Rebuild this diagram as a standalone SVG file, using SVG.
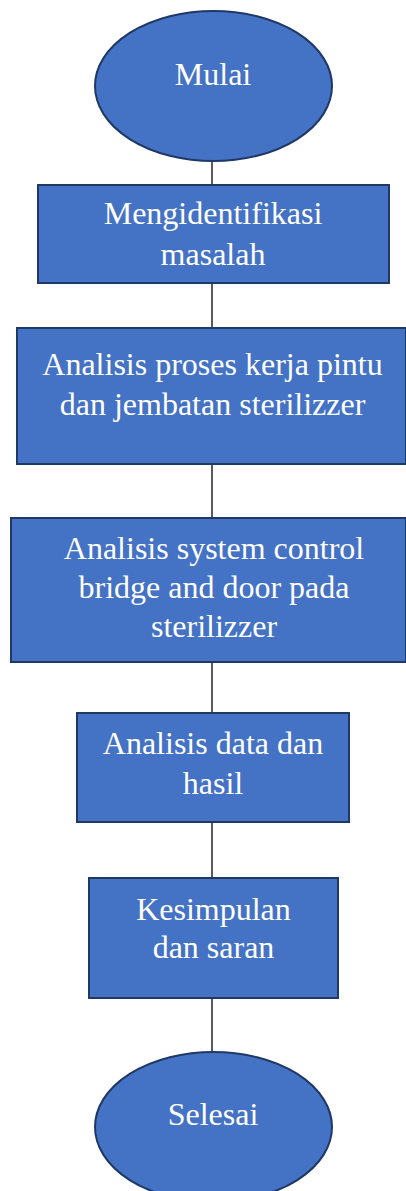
<svg xmlns="http://www.w3.org/2000/svg" width="406" height="1191" viewBox="0 0 406 1191">
<style>
.box{fill:#4472C4;stroke:#1F3864;stroke-width:2}
.lbl{fill:#FFFFFF;font-family:"Liberation Serif","Times New Roman",serif;font-size:32px;text-anchor:middle}
.con{stroke:#000000;stroke-width:1.3;fill:none}
</style>
<rect width="406" height="1191" fill="#FFFFFF"/>
<g id="connectors">
<line class="con" x1="212" y1="160" x2="212" y2="185"/>
<line class="con" x1="212" y1="280" x2="212" y2="328"/>
<line class="con" x1="212" y1="457" x2="212" y2="518"/>
<line class="con" x1="212" y1="662" x2="212" y2="713"/>
<line class="con" x1="212" y1="818" x2="212" y2="878"/>
<line class="con" x1="212" y1="998" x2="212" y2="1052"/>
</g>
<g id="mulai">
<ellipse class="box" cx="213.5" cy="86" rx="118.5" ry="75"/>
<text class="lbl" x="213" y="85">Mulai</text>
</g>
<g id="mengidentifikasi">
<rect class="box" x="38" y="185" width="351" height="98"/>
<text class="lbl" x="213" y="224">Mengidentifikasi</text>
<text class="lbl" x="213" y="265">masalah</text>
</g>
<g id="analisis-proses">
<rect class="box" x="17" y="328" width="389" height="136"/>
<text class="lbl" x="212.5" y="375">Analisis proses kerja pintu</text>
<text class="lbl" x="212.5" y="415">dan jembatan sterilizzer</text>
</g>
<g id="analisis-system">
<rect class="box" x="11" y="518" width="395" height="144"/>
<text class="lbl" x="214" y="559">Analisis system control</text>
<text class="lbl" x="214" y="598">bridge and door pada</text>
<text class="lbl" x="214" y="637">sterilizzer</text>
</g>
<g id="analisis-data">
<rect class="box" x="77" y="713" width="272" height="109"/>
<text class="lbl" x="213" y="754">Analisis data dan</text>
<text class="lbl" x="213" y="794">hasil</text>
</g>
<g id="kesimpulan">
<rect class="box" x="89" y="878" width="249" height="120"/>
<text class="lbl" x="213.5" y="920">Kesimpulan</text>
<text class="lbl" x="213.5" y="958">dan saran</text>
</g>
<g id="selesai">
<ellipse class="box" cx="213.5" cy="1127" rx="118.5" ry="75"/>
<text class="lbl" x="213" y="1125">Selesai</text>
</g>
</svg>
